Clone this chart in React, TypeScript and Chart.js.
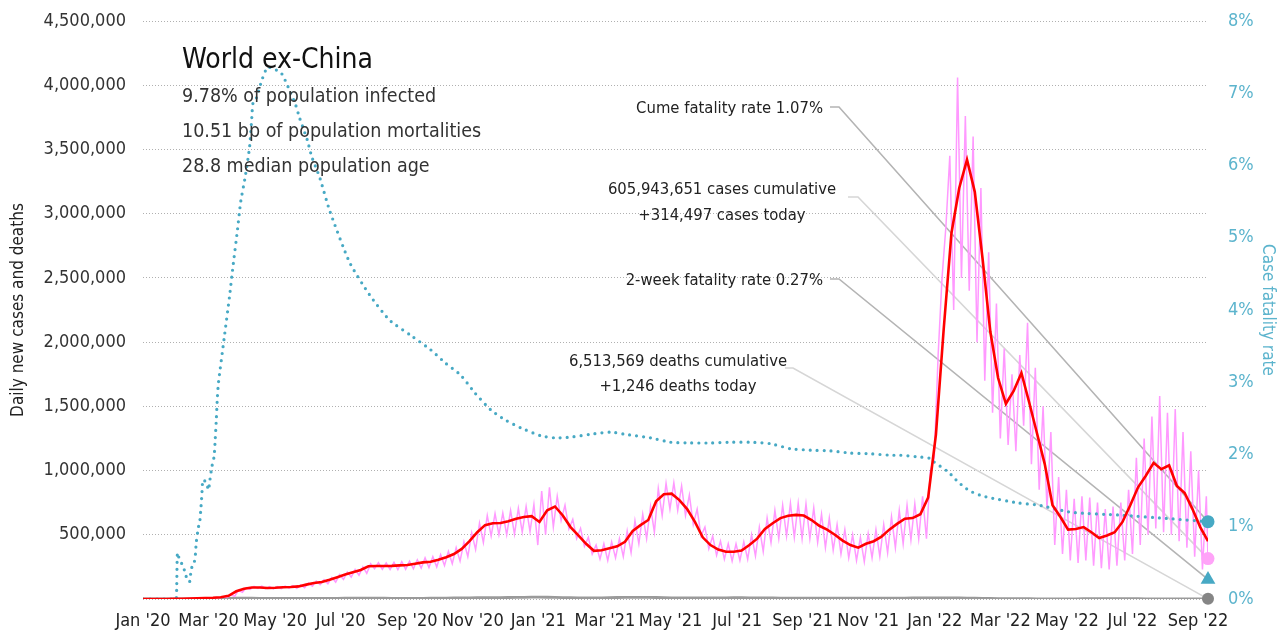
import React, { useEffect, useRef } from 'react';
import { Chart, registerables } from 'chart.js';

Chart.register(...registerables);

const FONT = "'DejaVu Sans Condensed', 'Liberation Sans', Arial, sans-serif";

// ---- x axis (days since 22 Jan 2020) ----
const xTickDays = [0, 59, 119, 178, 238, 297, 356, 416, 475, 535, 594, 653, 713, 772, 832, 891, 950];
const xTickLabels = ["Jan '20", "Mar '20", "May '20", "Jul '20", "Sep '20", "Nov '20", "Jan '21", "Mar '21", "May '21", "Jul '21", "Sep '21", "Nov '21", "Jan '22", "Mar '22", "May '22", "Jul '22", "Sep '22"];
const lastDay = 959;

// ---- 7-day average of daily new cases, one value per week (thousands) ----
const redWeekly = [
  0, 0, 0, 0, 1, 2, 3, 5, 8, 10,
  14, 25, 60, 80, 90, 90, 86, 88, 92, 93,
  98, 112, 125, 133, 150, 170, 190, 208, 226, 255,
  257, 257, 258, 262, 265, 275, 285, 290, 305, 325,
  350, 390, 450, 520, 575, 590, 592, 605, 625, 638,
  645, 600, 690, 720, 650, 560, 495, 430, 375, 380,
  395, 410, 445, 530, 575, 615, 760, 815, 820, 770,
  700, 600, 480, 420, 385, 368, 368, 378, 420, 470,
  545, 590, 630, 648, 655, 650, 615, 570, 540, 500,
  455, 420, 400, 430, 450, 485, 540, 585, 625, 630,
  660, 790, 1280, 2100, 2850, 3200, 3420, 3170, 2650, 2080,
  1720, 1520, 1620, 1760, 1530, 1290, 1050, 730, 640, 540,
  545, 560, 520, 475, 495, 520, 600, 730, 870, 960,
  1060, 1010, 1040, 880, 825, 700, 560, 450,
];

// ---- daily new cases: value early in each week and late in each week (thousands) ----
const pinkEarlyWeek = [
  0, 0, 0, 0, 1, 2, 4, 6, 10, 12,
  16, 32, 68, 88, 98, 100, 96, 97, 100, 104,
  110, 125, 140, 150, 168, 190, 210, 230, 250, 275,
  282, 280, 285, 290, 295, 305, 320, 330, 345, 370,
  400, 445, 515, 590, 650, 665, 670, 690, 705, 720,
  735, 840, 870, 800, 730, 620, 550, 480, 420, 430,
  445, 470, 530, 610, 660, 720, 860, 900, 905, 880,
  810, 700, 560, 490, 450, 430, 430, 445, 500, 560,
  630, 690, 730, 745, 745, 740, 710, 660, 630, 580,
  540, 500, 480, 510, 540, 580, 640, 690, 730, 740,
  800, 1000, 1900, 2900, 2250, 2500, 2400, 2000, 1700, 1450,
  1250, 1200, 1150, 1350, 1050, 850, 700, 420, 350, 300,
  280, 300, 260, 240, 230, 260, 300, 350, 420, 500,
  550, 520, 500, 450, 400, 330, 230,
];
const pinkLateWeek = [
  0, 0, 0, 0, 1, 2, 3, 4, 7, 9,
  12, 20, 52, 74, 82, 80, 78, 80, 84, 84,
  88, 100, 112, 118, 132, 152, 170, 185, 200, 235,
  232, 230, 228, 232, 235, 240, 245, 250, 260, 275,
  295, 330, 385, 440, 490, 500, 500, 505, 520, 525,
  420, 500, 560, 610, 545, 470, 410, 350, 310, 300,
  320, 330, 360, 430, 470, 520, 650, 700, 690, 650,
  580, 490, 390, 340, 310, 295, 300, 310, 335, 370,
  440, 470, 490, 480, 470, 470, 440, 400, 380, 350,
  320, 300, 290, 320, 330, 360, 400, 430, 460, 470,
  470, 1100, 2500, 3450, 4060, 3760, 3600, 3200, 2700, 2300,
  1950, 1750, 1900, 2150, 1800, 1500, 1300, 950, 850, 780,
  800, 790, 750, 700, 720, 750, 850, 1100, 1250, 1420,
  1580, 1450, 1480, 1300, 1150, 1000, 800,
];
const casesToday = 314497;

// ---- daily deaths, weekly (thousands) ----
const deathsWeekly = [
  0, 0, 0, 0, 0, 0, 0.1, 0.3, 0.8, 2,
  4, 5.5, 6.5, 6.5, 6, 5.5, 5, 4.5, 4.5, 4.3,
  4.5, 4.6, 4.8, 5, 5.2, 5.4, 5.8, 6, 6, 6,
  6, 5.8, 5.5, 5.5, 5.5, 5.5, 5.6, 5.8, 6.2, 7,
  8, 9, 9.5, 10, 10.5, 11, 11, 11.5, 12, 13,
  14, 14, 13.5, 12, 11, 10, 9, 8.5, 9, 9.5,
  10.5, 11.5, 12.5, 13, 12.5, 12, 11.5, 10.5, 9.5, 8.5,
  8, 7.8, 7.8, 8.2, 8.8, 9.5, 10, 10, 9.5, 9,
  8.5, 8, 7.5, 7, 7, 7, 6.8, 6.8, 6.8, 7,
  7, 6.8, 6.5, 6.5, 6.5, 6.5, 6.8, 7, 7.5, 8,
  8.5, 9, 9.5, 9.5, 9, 8, 7, 6, 5, 4,
  3.5, 3, 2.5, 2, 1.8, 1.6, 1.5, 1.4, 1.4, 1.5,
  1.6, 1.8, 2, 2.1, 2.2, 2.1, 2, 1.9, 1.8, 1.6,
  1.5, 1.5, 1.4, 1.3, 1.3, 1.3, 1.3, 1.246,
];
const deathsToday = 1246;

// ---- cumulative case fatality rate (%) ----
const cfrDays = [0, 7, 14, 21, 28, 30, 31, 33, 36, 38, 40, 42, 43, 44, 46, 47, 48, 50, 51, 52, 53, 54, 57, 59, 60, 62, 64, 65, 66, 67, 68, 73, 78, 81, 85, 88, 92, 96, 98, 99, 102, 107, 112, 117, 124, 128, 132, 137, 141, 148, 152, 159, 168, 186, 204, 222, 241, 259, 272, 286, 299, 313, 326, 340, 358, 371, 385, 403, 421, 434, 457, 475, 493, 511, 529, 547, 565, 583, 601, 619, 637, 655, 673, 682, 696, 708, 712, 725, 734, 744, 755, 763, 788, 806, 836, 881, 926, 959];
const cfrPct = [0, 0, 0, 0, 0, 0, 0.64, 0.54, 0.46, 0.36, 0.26, 0.24, 0.36, 0.44, 0.5, 0.58, 0.79, 1.0, 1.05, 1.23, 1.44, 1.65, 1.61, 1.51, 1.62, 1.83, 1.97, 2.2, 2.48, 2.8, 3.0, 3.6, 4.2, 4.6, 5.1, 5.5, 5.84, 6.26, 6.67, 6.86, 6.93, 7.18, 7.36, 7.34, 7.29, 7.18, 7.04, 6.86, 6.66, 6.35, 6.12, 5.84, 5.38, 4.66, 4.21, 3.86, 3.65, 3.45, 3.27, 3.1, 2.85, 2.62, 2.48, 2.37, 2.26, 2.23, 2.24, 2.28, 2.31, 2.28, 2.23, 2.17, 2.16, 2.16, 2.17, 2.17, 2.15, 2.08, 2.06, 2.05, 2.02, 2.01, 1.99, 1.99, 1.97, 1.95, 1.9, 1.76, 1.62, 1.5, 1.43, 1.4, 1.33, 1.3, 1.2, 1.16, 1.11, 1.07];
const cumeFatality = 1.07;
const twoWeekFatality = 0.27;

const titleText = 'World ex-China';
const subtitleLines = ['9.78% of population infected', '10.51 bp of population mortalities', '28.8 median population age'];

const TEAL = '#47a9c4';
const TEAL_LABEL = '#5cb4cd';
const PINK = '#ff99ff';
const RED = '#ff0000';
const GREY = '#9a9a9a';

const overlayPlugin = {
  id: 'overlay',
  beforeDatasetsDraw(chart: any) {
    const ctx = chart.ctx;
    const xs = chart.scales.x;
    const y = chart.scales.y;
    const y1 = chart.scales.y1;
    const xe = xs.getPixelForValue(lastDay);
    const lines = [
      { sx: 830, hx: 839, sy: 107, ey: y1.getPixelForValue(cumeFatality), color: '#b4b4b4' },
      { sx: 848, hx: 858, sy: 197, ey: y.getPixelForValue(casesToday), color: '#d6d6d6' },
      { sx: 830, hx: 839, sy: 279, ey: y1.getPixelForValue(twoWeekFatality), color: '#b4b4b4' },
      { sx: 785, hx: 793, sy: 368, ey: y.getPixelForValue(deathsToday), color: '#d6d6d6' },
    ];
    ctx.save();
    ctx.lineWidth = 1.6;
    for (const l of lines) {
      ctx.strokeStyle = l.color;
      ctx.beginPath();
      ctx.moveTo(l.sx, l.sy);
      ctx.lineTo(l.hx, l.sy);
      ctx.lineTo(xe, l.ey);
      ctx.stroke();
    }
    ctx.restore();
  },
  afterDraw(chart: any) {
    const ctx = chart.ctx;
    ctx.save();
    ctx.textBaseline = 'alphabetic';
    ctx.fillStyle = '#111';
    ctx.textAlign = 'left';
    ctx.font = `28px ${FONT}`;
    ctx.fillText(titleText, 182, 68);
    ctx.fillStyle = '#333';
    ctx.font = `19.5px ${FONT}`;
    subtitleLines.forEach((t, i) => ctx.fillText(t, 182, 102 + i * 35));

    ctx.fillStyle = '#222';
    ctx.font = `16.5px ${FONT}`;
    ctx.textAlign = 'right';
    ctx.fillText('Cume fatality rate 1.07%', 823, 113);
    ctx.fillText('2-week fatality rate 0.27%', 823, 285);
    ctx.textAlign = 'center';
    ctx.fillText('605,943,651 cases cumulative', 722, 194);
    ctx.fillText('+314,497 cases today', 722, 220);
    ctx.fillText('6,513,569 deaths cumulative', 678, 366);
    ctx.fillText('+1,246 deaths today', 678, 391);
    ctx.restore();
  },
};

export default function App() {
  const ref = useRef<HTMLCanvasElement | null>(null);

  useEffect(() => {
    document.body.style.margin = '0';
    const canvas = ref.current;
    if (!canvas) return;

    const redData = redWeekly.map((v, i) => ({ x: i * 7, y: v * 1000 }));
    const pinkData: { x: number; y: number }[] = [];
    pinkEarlyWeek.forEach((v, i) => {
      pinkData.push({ x: i * 7 + 2, y: v * 1000 });
      pinkData.push({ x: i * 7 + 5.5, y: pinkLateWeek[i] * 1000 });
    });
    pinkData.push({ x: lastDay, y: casesToday });
    const deathData = deathsWeekly.map((v, i) => ({ x: Math.min(i * 7, lastDay), y: v * 1000 }));
    const cfrData = cfrDays.map((d, i) => ({ x: d, y: cfrPct[i] }));

    const chart = new Chart(canvas, {
      type: 'line',
      data: {
        datasets: [
          { data: [{ x: lastDay, y: cumeFatality }], yAxisID: 'y1', showLine: false, pointRadius: 6.5, pointBackgroundColor: TEAL, pointBorderWidth: 0, clip: false } as any,
          { data: [{ x: lastDay, y: casesToday }], yAxisID: 'y', showLine: false, pointRadius: 6.5, pointBackgroundColor: '#ffa3f8', pointBorderWidth: 0, clip: false } as any,
          { data: [{ x: lastDay, y: twoWeekFatality }], yAxisID: 'y1', showLine: false, pointStyle: 'triangle', pointRadius: 8.5, pointBackgroundColor: TEAL, pointBorderWidth: 0, clip: false } as any,
          { data: [{ x: lastDay, y: deathsToday }], yAxisID: 'y', showLine: false, pointRadius: 6, pointBackgroundColor: '#858585', pointBorderWidth: 0, clip: false } as any,
          { data: redData, yAxisID: 'y', borderColor: RED, borderWidth: 2.6, pointRadius: 0, tension: 0 },
          { data: cfrData, yAxisID: 'y1', borderColor: TEAL, borderWidth: 3.2, borderDash: [0, 7], borderCapStyle: 'round', pointRadius: 0, tension: 0.2 } as any,
          { data: pinkData, yAxisID: 'y', borderColor: PINK, borderWidth: 1.5, pointRadius: 0, tension: 0 },
          { data: deathData, yAxisID: 'y', borderColor: GREY, borderWidth: 2.8, pointRadius: 0, tension: 0 },
        ],
      },
      options: {
        responsive: false,
        animation: false,
        parsing: false as any,
        normalized: true,
        layout: { padding: { top: 21, left: 0, right: 0, bottom: 0 } },
        plugins: { legend: { display: false }, tooltip: { enabled: false }, title: { display: false } },
        scales: {
          x: {
            type: 'linear',
            min: 0,
            max: lastDay,
            grid: { display: false },
            border: { display: false },
            afterBuildTicks: (scale: any) => {
              scale.ticks = xTickDays.map((v) => ({ value: v }));
            },
            afterFit: (scale: any) => {
              scale.height = 40;
            },
            ticks: {
              autoSkip: false,
              maxRotation: 0,
              minRotation: 0,
              padding: 4,
              color: '#222',
              font: { family: FONT, size: 18 },
              callback: (_v: any, i: number) => xTickLabels[i],
            },
          },
          y: {
            type: 'linear',
            position: 'left',
            min: 0,
            max: 4500000,
            grid: { color: '#b0b0b0', lineWidth: 1, drawTicks: false },
            border: { display: false, dash: [1, 2] },
            afterFit: (scale: any) => {
              scale.width = 143;
              scale.paddingTop = 0;
              scale.paddingBottom = 0;
            },
            ticks: {
              stepSize: 500000,
              padding: 17,
              color: '#333',
              font: { family: FONT, size: 18 },
              callback: (v: any) => (Number(v) === 0 ? '' : Number(v).toLocaleString('en-US')),
            },
            title: {
              display: true,
              text: 'Daily new cases and deaths',
              color: '#222',
              font: { family: FONT, size: 17 },
              padding: { top: 8, bottom: 0 },
            },
          },
          y1: {
            type: 'linear',
            position: 'right',
            min: 0,
            max: 8,
            grid: { display: false, drawTicks: false },
            border: { display: false },
            afterFit: (scale: any) => {
              scale.width = 79;
              scale.paddingTop = 0;
              scale.paddingBottom = 0;
            },
            ticks: {
              stepSize: 1,
              padding: 20,
              color: TEAL_LABEL,
              font: { family: FONT, size: 18 },
              callback: (v: any) => `${v}%`,
            },
            title: {
              display: true,
              text: 'Case fatality rate',
              color: TEAL_LABEL,
              font: { family: FONT, size: 17 },
              padding: { top: 9, bottom: 0 },
            },
          },
        },
      } as any,
      plugins: [overlayPlugin],
    });

    return () => chart.destroy();
  }, []);

  return (
    <div style={{ position: 'fixed', left: 0, top: 0, width: 1287, height: 639, background: '#fff' }}>
      <canvas ref={ref} width={1287} height={639} style={{ display: 'block' }} />
    </div>
  );
}
